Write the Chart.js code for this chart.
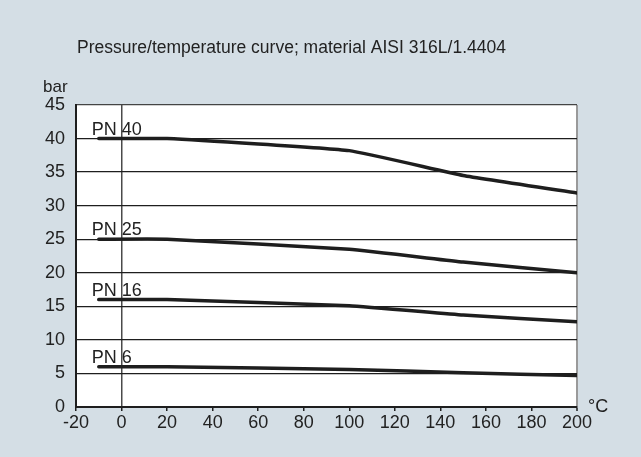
<!DOCTYPE html>
<html>
<head>
<meta charset="utf-8">
<script src="https://cdn.jsdelivr.net/npm/chart.js@4.4.1/dist/chart.umd.min.js"></script>
<style>
  html, body { margin: 0; padding: 0; background: #d4dee5; }
  #wrap { width: 641px; height: 457px; }
</style>
</head>
<body>
<div id="wrap"><canvas id="ptChart" width="641" height="457"></canvas></div>
<script>
// temperatures (°C) and pressure ratings (bar)
const temps = [-10, 20, 100, 150, 200];
const pn40 = [40, 40, 38.2, 34.5, 31.9];
const pn25 = [25, 25, 23.5, 21.6, 20.0];
const pn16 = [16, 16, 15.1, 13.7, 12.7];
const pn6 = [6, 6, 5.6, 5.1, 4.7];
const seriesNames = ['PN 40', 'PN 25', 'PN 16', 'PN 6'];
const xTicks = [-20, 0, 20, 40, 60, 80, 100, 120, 140, 160, 180, 200];
const yTicks = [0, 5, 10, 15, 20, 25, 30, 35, 40, 45];

const fontFam = "'Liberation Sans', Arial, sans-serif";
const ink = '#1e1e1e';

const toPoints = (vals) => temps.map((t, i) => ({ x: t, y: vals[i] }));

// white plot area + texts outside the axes
const decor = {
    id: 'decor',
    beforeDraw(chart) {
        const { ctx, chartArea: a } = chart;
        ctx.save();
        ctx.fillStyle = '#ffffff';
        ctx.fillRect(a.left, a.top, a.right - a.left, a.bottom - a.top);
        ctx.restore();
    },
    afterDraw(chart) {
        const { ctx } = chart;
        const xs = chart.scales.x, ys = chart.scales.y;
        ctx.save();
        ctx.fillStyle = '#222';
        ctx.textBaseline = 'alphabetic';
        ctx.textAlign = 'left';
        ctx.font = '17.5px ' + fontFam;
        ctx.fillText('Pressure/temperature curve; material AISI 316L/1.4404', 77, 53);
        ctx.font = '17px ' + fontFam;
        ctx.fillText('bar', 43, 92);
        ctx.font = '18px ' + fontFam;
        ctx.fillText('°C', 588, 412);

        // series labels just above the start of each curve
        chart.data.datasets.forEach((ds) => {
            const p = ds.data[0];
            ctx.fillText(ds.label, xs.getPixelForValue(p.x) - 7, ys.getPixelForValue(p.y) - 4);
        });
        ctx.restore();
    }
};

new Chart(document.getElementById('ptChart'), {
    type: 'line',
    data: {
        datasets: [pn40, pn25, pn16, pn6].map((vals, i) => ({
            label: seriesNames[i],
            data: toPoints(vals),
            borderColor: ink,
            borderWidth: 3.5,
            borderCapStyle: 'round',
            pointRadius: 0,
            tension: 0.12,
            fill: false
        }))
    },
    options: {
        responsive: false,
        animation: false,
        events: [],
        layout: { padding: { top: 105, right: 64, left: 0, bottom: 0 } },
        plugins: {
            legend: { display: false },
            tooltip: { enabled: false }
        },
        scales: {
            x: {
                type: 'linear',
                min: -20,
                max: 200,
                afterBuildTicks: (s) => { s.ticks = xTicks.map(v => ({ value: v })); },
                afterFit: (s) => { s.height = 50; },
                border: { color: ink, width: 2 },
                grid: {
                    color: (c) => c.tick && c.tick.value === 0 ? '#4a4a4a' : (c.tick && c.tick.value === 200 ? '#9a9a9a' : 'rgba(0,0,0,0)'),
                    lineWidth: (c) => c.tick && c.tick.value === 200 ? 2 : 1.5,
                    tickColor: ink,
                    tickLength: 4,
                    tickWidth: 1.5
                },
                ticks: {
                    color: '#222',
                    padding: 1,
                    font: { family: fontFam, size: 18 }
                }
            },
            y: {
                min: 0,
                max: 45,
                afterBuildTicks: (s) => { s.ticks = yTicks.map(v => ({ value: v })); },
                afterFit: (s) => { s.width = 76; },
                border: { color: ink, width: 2 },
                grid: {
                    color: (c) => c.tick && c.tick.value === 45 ? '#444' : ink,
                    lineWidth: 1.3,
                    drawTicks: false
                },
                ticks: {
                    color: '#222',
                    padding: 11,
                    font: { family: fontFam, size: 18 }
                }
            }
        }
    },
    plugins: [decor]
});
</script>
</body>
</html>
